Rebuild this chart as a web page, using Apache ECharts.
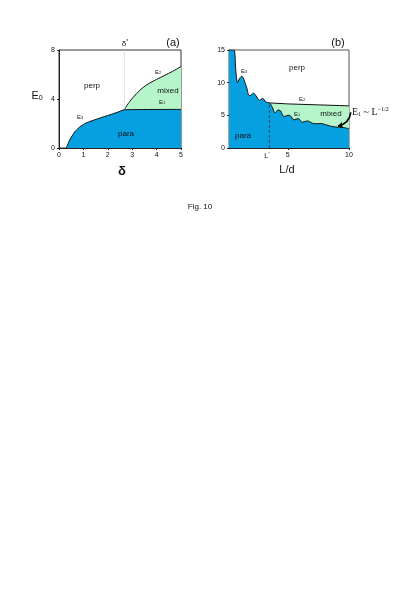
<!DOCTYPE html>
<html>
<head>
<meta charset="utf-8">
<script src="https://cdn.jsdelivr.net/npm/echarts@6/dist/echarts.min.js"></script>
<style>
  html, body { margin: 0; padding: 0; background: #fff; }
  #chart { width: 413px; height: 593px; }
</style>
</head>
<body>
<div id="chart"></div>
<script>
// panel (a): E0 vs delta
const aXTicks = [0, 1, 2, 3, 4, 5];
const aYTicks = [0, 4, 8];
const aDeltaStar = 2.68;
const aE3 = [[0.3, 0], [0.35, 0.25], [0.44, 0.66], [0.64, 1.3], [0.85, 1.72], [1.05, 1.98],
  [1.26, 2.16], [1.67, 2.44], [2.08, 2.71], [2.4, 2.92], [2.68, 3.12]];
const aE1 = [[2.68, 3.15], [5, 3.15]];
const aE2 = [[2.68, 3.15], [2.9, 3.8], [3.18, 4.45], [3.45, 4.95], [3.73, 5.32], [4.0, 5.6],
  [4.3, 5.9], [4.65, 6.25], [5, 6.65]];

// panel (b): E0 vs L/d
const bXTicks = [5, 10];
const bYTicks = [0, 5, 10, 15];
const bLStar = 3.5;
const bE3 = [[0.2, 15], [0.6, 15], [0.75, 12], [0.9, 10.0], [1.05, 10.6], [1.25, 11.0],
  [1.45, 10.3], [1.65, 9.2], [1.85, 8.0], [2.0, 8.1], [2.2, 8.4], [2.4, 8.0], [2.7, 7.3],
  [2.95, 7.6], [3.2, 7.05], [3.5, 6.9]];
const bE1 = [[3.5, 6.9], [3.75, 6.2], [3.95, 5.35], [4.2, 5.8], [4.4, 5.7], [4.7, 4.8],
  [5.0, 5.0], [5.2, 4.95], [5.5, 4.3], [5.85, 4.5], [6.2, 3.95], [6.6, 4.15], [7.0, 3.8],
  [7.3, 3.7], [7.7, 3.75], [8.2, 3.5], [8.6, 3.3], [9.0, 3.2], [9.5, 3.15], [10, 2.95]];
const bE2 = [[3.5, 6.9], [5, 6.75], [7.5, 6.6], [10, 6.45]];

const BLUE = '#069fdf';
const GREEN = '#b5f5c9';
const SANS = '"Liberation Sans", Arial, sans-serif';

const chart = echarts.init(document.getElementById('chart'));

function axisBase() {
  return {
    axisLine: { show: true, onZero: false, lineStyle: { color: '#222', width: 1 } },
    axisTick: { show: true, inside: false, length: 2, lineStyle: { color: '#222' } },
    axisLabel: { color: '#111', fontSize: 7, fontFamily: SANS, margin: 4 },
    splitLine: { show: false }
  };
}

function region(idx, data, color, z, smooth) {
  return {
    type: 'line', xAxisIndex: idx, yAxisIndex: idx, data, showSymbol: false, z,
    smooth: smooth || false,
    lineStyle: { color: '#111', width: 1 },
    areaStyle: { color, opacity: 1 },
    animation: false
  };
}

function guide(idx, data, color, type, width) {
  return {
    type: 'line', xAxisIndex: idx, yAxisIndex: idx, data, showSymbol: false, z: 5,
    lineStyle: { color, type, width }, animation: false
  };
}

function note(x, y, text, size, opts) {
  opts = opts || {};
  return {
    type: 'text', x, y, z: 100,
    style: {
      text, fill: '#111', align: opts.align || 'center', verticalAlign: 'middle',
      font: `${opts.weight || 'normal'} ${size}px ${opts.family || SANS}`,
      rich: {
        s: { fontSize: Math.round(size * 0.6), fontFamily: opts.family || SANS, verticalAlign: 'bottom', padding: [size * 0.45, 0, 0, 0], fill: '#111' },
        sup: { fontSize: Math.round(size * 0.6), fontFamily: opts.family || SANS, verticalAlign: 'top', padding: [0, 0, size * 0.5, 0], fill: '#111' }
      }
    }
  };
}

chart.setOption({
  animation: false,
  grid: [
    { left: 59, top: 50, width: 122, height: 98, show: true, borderColor: '#333', borderWidth: 1, backgroundColor: '#fff' },
    { left: 229, top: 50, width: 120, height: 98, show: true, borderColor: '#555', borderWidth: 1, backgroundColor: '#fff' }
  ],
  xAxis: [
    Object.assign(axisBase(), { type: 'value', gridIndex: 0, min: aXTicks[0], max: aXTicks[aXTicks.length - 1], interval: 1 }),
    Object.assign(axisBase(), {
      type: 'value', gridIndex: 1, min: 0.2, max: 10,
      axisLabel: Object.assign(axisBase().axisLabel, { customValues: bXTicks }),
      axisTick: Object.assign(axisBase().axisTick, { customValues: bXTicks })
    })
  ],
  yAxis: [
    Object.assign(axisBase(), { type: 'value', gridIndex: 0, min: aYTicks[0], max: aYTicks[aYTicks.length - 1], interval: 4 }),
    Object.assign(axisBase(), { type: 'value', gridIndex: 1, min: bYTicks[0], max: bYTicks[bYTicks.length - 1], interval: 5 })
  ],
  series: [
    region(0, aE2, GREEN, 2, 0.3),
    region(0, aE3.concat(aE1.slice(1)), BLUE, 3, 0.2),
    guide(0, [[aDeltaStar, 3.2], [aDeltaStar, 8]], '#c4c4c4', 'dotted', 1),
    region(1, bE2, GREEN, 2, false),
    region(1, bE3.concat(bE1.slice(1)), BLUE, 3, 0.3),
    guide(1, [[bLStar, 0], [bLStar, 6.9]], '#333', [3, 2], 0.8),
    {
      type: 'lines', coordinateSystem: 'cartesian2d', xAxisIndex: 1, yAxisIndex: 1, z: 6, clip: false,
      polyline: false,
      symbol: ['none', 'arrow'], symbolSize: 5,
      lineStyle: { color: '#000', width: 1.6, curveness: 0.35, opacity: 1 },
      data: [{ coords: [[10.15, 5.45], [9.1, 3.35]] }],
      animation: false
    }
  ],
  graphic: [
    // panel (a)
    note(173, 43, '(a)', 11),
    note(125, 44, 'δ{sup|*}', 8),
    note(37, 96, 'E{s|0}', 11),
    note(122, 171, 'δ', 13, { weight: 'bold' }),
    note(92, 86, 'perp', 8),
    note(168, 91, 'mixed', 8),
    note(126, 134, 'para', 8),
    note(162, 102, 'E{s|1}', 6),
    note(158, 72, 'E{s|2}', 6),
    note(80, 117, 'E{s|3}', 6),
    // panel (b)
    note(338, 43, '(b)', 11),
    note(287, 170, 'L/d', 11),
    note(267, 156, 'L{sup|*}', 7),
    note(297, 68, 'perp', 8),
    note(331, 114, 'mixed', 8),
    note(243, 136, 'para', 8),
    note(297, 114, 'E{s|1}', 6),
    note(302, 99, 'E{s|2}', 6),
    note(244, 71, 'E{s|3}', 6),
    note(352, 112, 'E{s|1} ~ L{sup|−1/2}', 10, { align: 'left', family: '"Liberation Serif", "Times New Roman", serif' }),
    // caption
    note(200, 207, 'Fig. 10', 8)
  ]
});
</script>
</body>
</html>
